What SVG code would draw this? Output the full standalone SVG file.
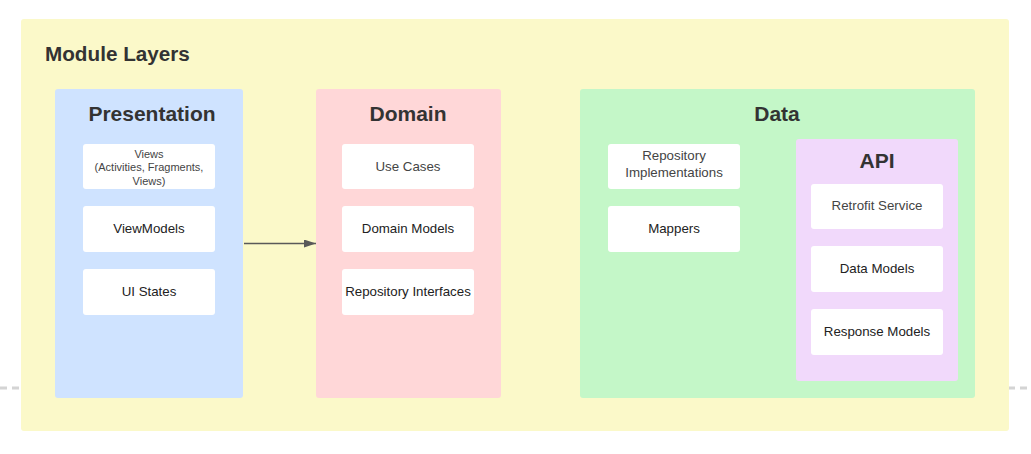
<svg xmlns="http://www.w3.org/2000/svg" width="1031" height="454" viewBox="0 0 1031 454">
<style>
.t{font-family:"Liberation Sans",Arial,sans-serif;}
.h{font-weight:bold;fill:#333;font-size:21px;text-anchor:middle;}
.box{fill:#fff;}
.lbl{font-size:13.3px;fill:#222;text-anchor:middle;}
.lg{fill:#444;}
</style>
<defs>
<marker id="arr" markerWidth="12" markerHeight="8" refX="12" refY="4" orient="auto" markerUnits="userSpaceOnUse">
<path d="M0,0 L12,4 L0,8 Z" fill="#595959"/>
</marker>
</defs>
<line x1="0" y1="388" x2="1031" y2="388" stroke="#d4d4d4" stroke-width="3" stroke-dasharray="7,5"/>
<g id="module-layers">
<rect x="21" y="19" width="988" height="412" rx="3" fill="#fbf9c9"/>
<text class="t" x="45" y="61" font-size="20.7" font-weight="bold" fill="#333">Module Layers</text>
</g>
<g id="presentation">
<rect x="55" y="89" width="188" height="309" rx="3" fill="#cfe3ff"/>
<text class="t h" x="152" y="121">Presentation</text>
<rect class="box" x="83" y="144" width="132" height="45" rx="3"/>
<text class="t lbl lg" x="149" style="font-size:11px"><tspan x="149" y="158">Views</tspan><tspan x="149" y="171">(Activities, Fragments,</tspan><tspan x="149" y="185">Views)</tspan></text>
<rect class="box" x="83" y="206" width="132" height="46" rx="3"/>
<text class="t lbl" x="149" y="233">ViewModels</text>
<rect class="box" x="83" y="269" width="132" height="46" rx="3"/>
<text class="t lbl" x="149" y="296">UI States</text>
</g>
<g id="domain">
<rect x="316" y="89" width="185" height="309" rx="3" fill="#ffd7d8"/>
<text class="t h" x="408" y="121">Domain</text>
<rect class="box" x="342" y="144" width="132" height="45" rx="3"/>
<text class="t lbl lg" x="408" y="171">Use Cases</text>
<rect class="box" x="342" y="206" width="132" height="46" rx="3"/>
<text class="t lbl" x="408" y="233">Domain Models</text>
<rect class="box" x="342" y="269" width="132" height="46" rx="3"/>
<text class="t lbl" x="408" y="296">Repository Interfaces</text>
</g>
<g id="data">
<rect x="580" y="89" width="395" height="309" rx="3" fill="#c4f7c8"/>
<text class="t h" x="777" y="121">Data</text>
<rect class="box" x="608" y="144" width="132" height="45" rx="3"/>
<text class="t lbl lg"><tspan x="674" y="160">Repository</tspan><tspan x="674" y="177">Implementations</tspan></text>
<rect class="box" x="608" y="206" width="132" height="46" rx="3"/>
<text class="t lbl" x="674" y="233">Mappers</text>
</g>
<g id="api">
<rect x="796" y="139" width="162" height="242" rx="3" fill="#f1d9fb"/>
<text class="t h" x="877" y="168">API</text>
<rect class="box" x="811" y="184" width="132" height="45" rx="3"/>
<text class="t lbl lg" x="877" y="210">Retrofit Service</text>
<rect class="box" x="811" y="246" width="132" height="46" rx="3"/>
<text class="t lbl" x="877" y="273">Data Models</text>
<rect class="box" x="811" y="309" width="132" height="46" rx="3"/>
<text class="t lbl" x="877" y="336">Response Models</text>
</g>
<g id="connectors">
<line x1="244" y1="243.5" x2="316" y2="243.5" stroke="#595959" stroke-width="1.3" marker-end="url(#arr)"/>
</g>
</svg>
